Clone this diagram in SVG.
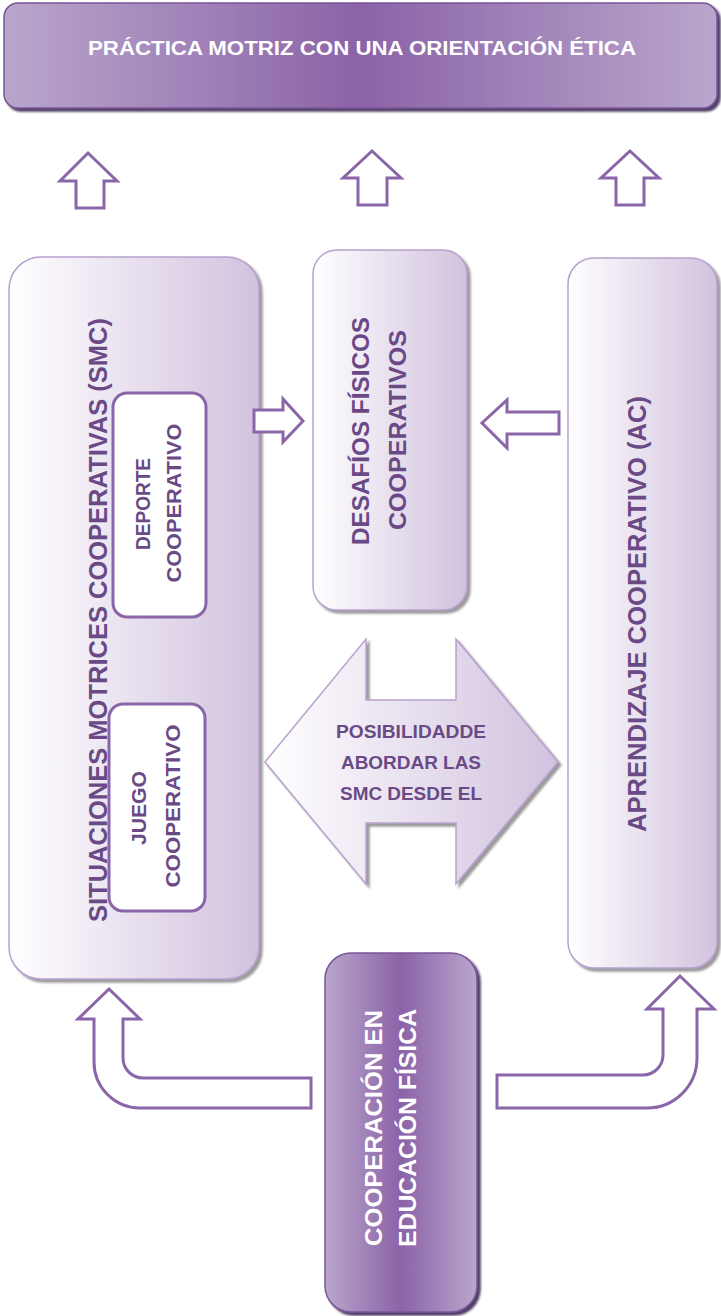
<svg xmlns="http://www.w3.org/2000/svg" width="721" height="1316" viewBox="0 0 721 1316">
  <defs>
    <linearGradient id="gLight" x1="0" y1="0" x2="1" y2="0">
      <stop offset="0" stop-color="#ffffff"/>
      <stop offset="0.3" stop-color="#f1ecf5"/>
      <stop offset="1" stop-color="#d1c2de"/>
    </linearGradient>
    <linearGradient id="gDark" x1="0" y1="0" x2="1" y2="0">
      <stop offset="0" stop-color="#b9a6cc"/>
      <stop offset="0.5" stop-color="#8b63a7"/>
      <stop offset="1" stop-color="#b9a6cc"/>
    </linearGradient>
    <filter id="shGray" x="-10%" y="-10%" width="120%" height="120%">
      <feDropShadow dx="3" dy="3" stdDeviation="1.2" flood-color="#707070" flood-opacity="0.7"/>
    </filter>
    <filter id="shDark" x="-10%" y="-10%" width="120%" height="120%">
      <feDropShadow dx="3" dy="3" stdDeviation="1.2" flood-color="#3e2652" flood-opacity="0.9"/>
    </filter>
  </defs>
  <style>
    .light { fill: url(#gLight); stroke: #b8a1ce; stroke-width: 1.5; filter: url(#shGray); }
    .dark { fill: url(#gDark); stroke: #7a5698; stroke-width: 1.5; filter: url(#shDark); }
    .inner { fill: #ffffff; stroke: #8a66a9; stroke-width: 3; }
    .arrow { fill: #ffffff; stroke: #8a66a9; stroke-width: 3; stroke-linejoin: miter; }
    text { font-family: "Liberation Sans", Arial, sans-serif; font-weight: bold; text-anchor: middle; }
    .tw { fill: #ffffff; }
    .tp { fill: #6a4a86; }
  </style>

  <!-- top banner -->
  <g id="practica">
    <rect class="dark" x="4" y="3" width="713" height="105" rx="14"/>
    <text class="tw" x="362" y="55" font-size="21" textLength="548" lengthAdjust="spacingAndGlyphs">PRÁCTICA MOTRIZ CON UNA ORIENTACIÓN ÉTICA</text>
  </g>

  <!-- left column: situaciones motrices cooperativas -->
  <g id="smc">
    <rect class="light" x="9" y="257" width="250" height="722" rx="32"/>
    <g transform="translate(97,620) rotate(-90)">
      <text class="tp" x="0" y="9.5" font-size="26" textLength="604" lengthAdjust="spacingAndGlyphs">SITUACIONES MOTRICES COOPERATIVAS (SMC)</text>
    </g>
  </g>
  <g id="deporte">
    <rect class="inner" x="113" y="393" width="93" height="224" rx="14"/>
    <g transform="translate(142,504) rotate(-90)">
      <text class="tp" x="0" y="7.5" font-size="21" textLength="92" lengthAdjust="spacingAndGlyphs">DEPORTE</text>
    </g>
    <g transform="translate(173,503) rotate(-90)">
      <text class="tp" x="0" y="7.5" font-size="21" textLength="159" lengthAdjust="spacingAndGlyphs">COOPERATIVO</text>
    </g>
  </g>
  <g id="juego">
    <rect class="inner" x="109" y="704" width="96" height="207" rx="14"/>
    <g transform="translate(138,808) rotate(-90)">
      <text class="tp" x="0" y="7.5" font-size="21" textLength="74" lengthAdjust="spacingAndGlyphs">JUEGO</text>
    </g>
    <g transform="translate(172,806) rotate(-90)">
      <text class="tp" x="0" y="7.5" font-size="21" textLength="163" lengthAdjust="spacingAndGlyphs">COOPERATIVO</text>
    </g>
  </g>

  <!-- middle column -->
  <g id="desafios">
    <rect class="light" x="313" y="250" width="154" height="360" rx="24"/>
    <g transform="translate(360,431) rotate(-90)">
      <text class="tp" x="0" y="8.5" font-size="23" textLength="228" lengthAdjust="spacingAndGlyphs">DESAFÍOS FÍSICOS</text>
    </g>
    <g transform="translate(397,430) rotate(-90)">
      <text class="tp" x="0" y="8.5" font-size="23" textLength="200" lengthAdjust="spacingAndGlyphs">COOPERATIVOS</text>
    </g>
  </g>

  <g id="posibilidad">
    <polygon class="light" points="265,762 366,639 366,700 456,700 456,639 558,762 456,884 456,823 366,823 366,884"/>
    <text class="tp" x="411" y="738" font-size="18" textLength="150" lengthAdjust="spacingAndGlyphs">POSIBILIDADDE</text>
    <text class="tp" x="411" y="769" font-size="18" textLength="140" lengthAdjust="spacingAndGlyphs">ABORDAR LAS</text>
    <text class="tp" x="411" y="800" font-size="18" textLength="142" lengthAdjust="spacingAndGlyphs">SMC DESDE EL</text>
  </g>

  <!-- right column: aprendizaje cooperativo -->
  <g id="ac">
    <rect class="light" x="568" y="258" width="149" height="710" rx="26"/>
    <g transform="translate(636,614) rotate(-90)">
      <text class="tp" x="0" y="9.5" font-size="26" textLength="436" lengthAdjust="spacingAndGlyphs">APRENDIZAJE COOPERATIVO (AC)</text>
    </g>
  </g>

  <!-- bottom: cooperación en educación física -->
  <g id="cooperacion">
    <rect class="dark" x="325" y="953" width="152" height="359" rx="26"/>
    <g transform="translate(373,1128) rotate(-90)">
      <text class="tw" x="0" y="8.5" font-size="24" textLength="236" lengthAdjust="spacingAndGlyphs">COOPERACIÓN EN</text>
    </g>
    <g transform="translate(407,1128) rotate(-90)">
      <text class="tw" x="0" y="8.5" font-size="24" textLength="238" lengthAdjust="spacingAndGlyphs">EDUCACIÓN FÍSICA</text>
    </g>
  </g>

  <!-- block arrows -->
  <g id="connectors">
    <polygon class="arrow" points="88,153 117,181 104,181 104,208 76,208 76,181 60,181"/>
    <polygon class="arrow" points="372,151 401,178 387,178 387,205 358,205 358,178 343,178"/>
    <polygon class="arrow" points="630,151 659,178 644,178 644,205 616,205 616,178 601,178"/>
    <polygon class="arrow" points="254,410 283,410 283,399 303,421 283,442 283,432 254,432"/>
    <polygon class="arrow" points="559,412 507,412 507,400 482,423 507,448 507,434 559,434"/>
    <path class="arrow" d="M311,1078 L143,1078 A20,20 0 0 1 123,1058 L123,1019 L140,1019 L109,989 L78,1019 L94,1019 L94,1062 A46,46 0 0 0 140,1108 L311,1108 Z"/>
    <path class="arrow" d="M497,1075 L643,1075 A20,20 0 0 0 663,1055 L663,1009 L647,1009 L680,976 L714,1009 L697,1009 L697,1058 A50,50 0 0 1 647,1108 L497,1108 Z"/>
  </g>
</svg>
